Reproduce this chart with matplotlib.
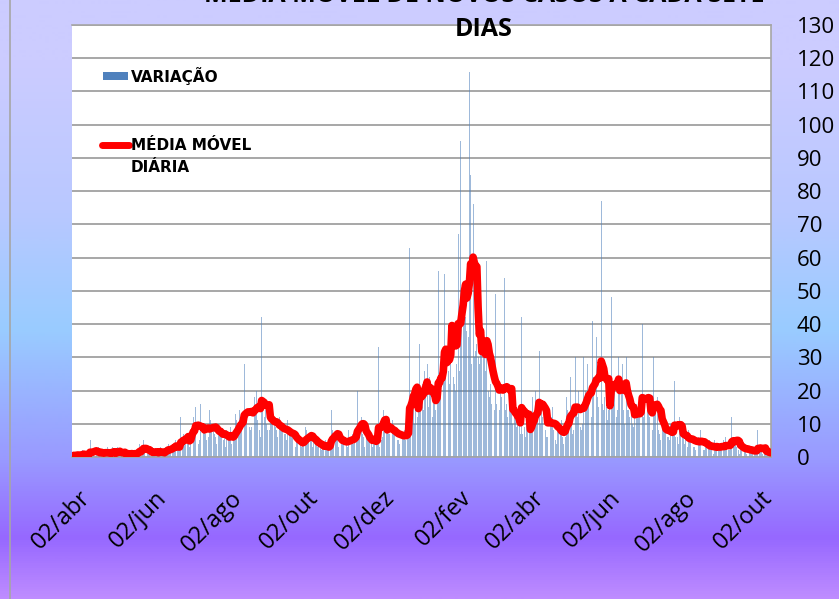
import numpy as np
import pandas as pd
import matplotlib
matplotlib.use('Agg')
import matplotlib.pyplot as plt
from matplotlib.patches import Rectangle
from matplotlib.lines import Line2D
from matplotlib.colors import LinearSegmentedColormap
import matplotlib.transforms as mtransforms

# ---------------- DATA ----------------
data_inicio = '2020-03-30'

# daily new cases
casos_parte1 = [
    0, 1, 0, 1,
    1, 0, 1, 0, 2, 1, 0,
    1, 0, 1, 5, 2, 1, 1,
    2, 1, 0, 3, 1, 2, 0,
    1, 2, 0, 3, 1, 1, 0,
    3, 1, 2, 0, 3, 2, 1,
    1, 0, 2, 1, 0, 2, 1,
    0, 1, 2, 0, 1, 2, 1,
    2, 4, 1, 3, 5, 2, 1,
    1, 2, 1, 0, 3, 2, 1,
    2, 1, 0, 2, 3, 1, 1,
    1, 3, 2, 4, 3, 2, 2,
    3, 4, 5, 3, 2, 2, 12,
    4, 7, 5, 6, 4, 5, 3,
    6, 17, 12, 8, 15, 5, 4,
    5, 16, 10, 8, 9, 7, 5,
    6, 14, 11, 9, 10, 7, 6,
    4, 10, 8, 9, 6, 5, 7,
    3, 8, 7, 6, 9, 4, 5,
    5, 13, 11, 10, 14, 9, 8,
]
casos_parte2 = [
    8, 28, 14, 12, 16, 9, 8,
    9, 25, 18, 14, 20, 11, 8,
    6, 42, 16, 12, 14, 10, 8,
    8, 16, 12, 10, 11, 9, 8,
    6, 12, 10, 9, 8, 7, 7,
    5, 11, 8, 7, 6, 6, 6,
    3, 6, 5, 4, 5, 3, 4,
    4, 9, 8, 6, 7, 5, 6,
    3, 5, 6, 4, 3, 4, 3,
    2, 4, 3, 5, 2, 3, 2,
    4, 14, 8, 7, 6, 5, 5,
    3, 7, 5, 4, 6, 3, 4,
    3, 8, 6, 5, 7, 4, 6,
    6, 20, 10, 9, 12, 7, 6,
    3, 8, 6, 5, 6, 4, 3,
    5, 6, 4, 7, 33, 3, 5,
    6, 14, 10, 8, 11, 7, 7,
    5, 11, 8, 7, 8, 5, 5,
    4, 10, 7, 6, 8, 5, 6,
]
casos_parte3 = [
    8, 63, 12, 14, 20, 10, 16, 12, 18, 34,
    16, 22, 14, 26, 18, 28, 15, 24, 20, 12,
    18, 16, 14, 20, 56, 20, 22, 18, 30, 55,
    26, 28, 26, 22, 28, 92, 24, 22, 20, 28,
    67, 26, 95, 44, 40, 50, 42, 38, 36, 116,
    85, 28, 76, 30, 32, 34, 30, 28, 36, 32,
    30, 34, 26, 59, 20, 18, 22, 16, 20, 14,
    49, 16, 12, 14, 20, 18, 12, 54, 14, 16,
    12, 18, 14, 16, 10, 12, 11, 9, 13, 10,
    7, 42, 7, 9, 6, 10, 8, 8, 10, 12,
    18, 10, 20, 12, 11,
]
casos_parte4 = [
    32, 10, 14, 12, 16, 8, 6,
    6, 14, 10, 12, 15, 8, 5,
    4, 10, 8, 9, 11, 6, 4,
    6, 18, 14, 12, 24, 10, 7,
    8, 30, 14, 12, 20, 9, 8,
    10, 30, 20, 18, 28, 16, 11,
    12, 41, 24, 22, 36, 18, 15,
    10, 77, 16, 14, 18, 15, 11,
    14, 20, 48, 18, 22, 20, 12,
    14, 30, 24, 20, 28, 14, 10,
    30, 14, 14, 12, 16, 10, 9,
    14, 16, 14, 14, 14, 13, 40,
    12, 16, 14, 14, 16, 12, 13,
    8, 30, 16, 14, 18, 8, 7,
    5, 12, 10, 8, 9, 6, 6,
    5, 10, 8, 9, 23, 6, 6,
    4, 12, 8, 6, 7, 4, 5,
    3, 8, 6, 5, 7, 3, 3,
    2, 7, 6, 4, 8, 3, 2,
    2, 5, 4, 3, 5, 2, 2,
    1, 5, 3, 4, 4, 2, 2,
    2, 5, 3, 6, 4, 2, 2,
    3, 12, 5, 4, 6, 3, 2,
    1, 4, 3, 2, 4, 2, 1,
    1, 3, 2, 2, 3, 1, 1,
    1, 8, 2, 3, 2, 1, 1,
    2, 1, 2, 1, 1,
]

tick_datas = ['2020-04-02', '2020-06-02', '2020-08-02', '2020-10-02', '2020-12-02',
              '2021-02-02', '2021-04-02', '2021-06-02', '2021-08-02', '2021-10-02']
tick_rotulos = ['02/abr', '02/jun', '02/ago', '02/out', '02/dez',
                '02/fev', '02/abr', '02/jun', '02/ago', '02/out']
y_ticks = list(range(0, 131, 10))

titulo_linha1 = 'MÉDIA MÓVEL DE NOVOS CASOS A CADA SETE'
titulo_linha2 = 'DIAS'
rotulo_barras = 'VARIAÇÃO'
rotulo_linha = ['MÉDIA MÓVEL', 'DIÁRIA']

# ---------------- PREP ----------------
casos = casos_parte1 + casos_parte2 + casos_parte3 + casos_parte4
datas = pd.date_range(data_inicio, periods=len(casos), freq='D')
media_movel = pd.Series(casos, index=datas).rolling(7, min_periods=1).mean()

plt.rcParams['font.family'] = ['Open Sans', 'DejaVu Sans']

W, H = 839, 599
fig = plt.figure(figsize=(W / 100, H / 100), dpi=100)

# background gradient
bg = fig.add_axes([0, 0, 1, 1], zorder=0)
stops = [(0.0, (204, 204, 255)), (0.10, (204, 204, 255)), (0.35, (185, 200, 255)),
         (0.55, (153, 204, 255)), (0.77, (153, 153, 255)), (0.90, (150, 104, 255)),
         (1.0, (190, 140, 255))]
cmap = LinearSegmentedColormap.from_list('bg', [(p, tuple(c / 255 for c in col)) for p, col in stops])
grad = np.linspace(0, 1, 600).reshape(-1, 1)
bg.imshow(grad, aspect='auto', cmap=cmap, extent=[0, 1, 0, 1], origin='upper')
bg.set_axis_off()
fig.add_artist(Line2D([10 / W, 10 / W], [0, 1], transform=fig.transFigure,
                      color='#a6a6a6', lw=1.2, zorder=5))

ax = fig.add_axes([72 / W, 1 - 457 / H, 699 / W, 432 / H], zorder=1)
ax.set_facecolor('white')

ax.bar(datas, casos, width=0.75, color='#4F81BD', alpha=0.55, linewidth=0, zorder=2)
ax.plot(media_movel.index, media_movel.values, color='#FF0000', lw=5.5, zorder=3,
        solid_joinstyle='round', solid_capstyle='round')

ax.set_xlim(datas[0] - pd.Timedelta(hours=12), datas[-1] + pd.Timedelta(hours=12))
ax.set_ylim(0, 130)

ax.yaxis.tick_right()
ax.set_yticks(y_ticks)
ax.set_yticklabels([str(v) for v in y_ticks])
ax.tick_params(axis='y', length=0, pad=18.5, labelsize=16, labelcolor='black')
ax.grid(axis='y', color='#a0a0a0', lw=1.3)
ax.set_axisbelow(True)

ax.set_xticks(pd.to_datetime(tick_datas))
ax.set_xticklabels(tick_rotulos, rotation=45, ha='right', va='top',
                   rotation_mode='anchor', fontsize=17)
ax.tick_params(axis='x', length=0, pad=21)
offset = mtransforms.ScaledTranslation(2.5 / 100, 0, fig.dpi_scale_trans)
for lbl in ax.get_xticklabels():
    lbl.set_transform(lbl.get_transform() + offset)

for s in ['top', 'right', 'bottom']:
    ax.spines[s].set_color('#a6a6a6')
    ax.spines[s].set_linewidth(1.2)
ax.spines['left'].set_visible(False)

# legend (manual)
ax.add_patch(Rectangle((0.044, 0.873), 0.036, 0.019, transform=ax.transAxes,
                       facecolor='#4F81BD', edgecolor='none', zorder=4))
ax.text(0.084, 0.882, rotulo_barras, transform=ax.transAxes, fontsize=11,
        fontweight='bold', va='center', ha='left', family=['DejaVu Sans'], zorder=4)
ax.add_line(Line2D([0.043, 0.082], [0.722, 0.722], transform=ax.transAxes,
                   color='#FF0000', lw=5, solid_capstyle='round', zorder=4))
ax.text(0.084, 0.722, rotulo_linha[0], transform=ax.transAxes, fontsize=11,
        fontweight='bold', va='center', ha='left', family=['DejaVu Sans'], zorder=4)
ax.text(0.084, 0.669, rotulo_linha[1], transform=ax.transAxes, fontsize=11,
        fontweight='bold', va='center', ha='left', family=['DejaVu Sans'], zorder=4)

# title
fig.text(484 / W, 1 + 5 / H, titulo_linha1, ha='center', va='center', fontsize=18,
         fontweight='bold', zorder=6)
fig.text(484 / W, 1 - 30 / H, titulo_linha2, ha='center', va='center', fontsize=18,
         fontweight='bold', zorder=6)

fig.savefig('out.png', dpi=100)
